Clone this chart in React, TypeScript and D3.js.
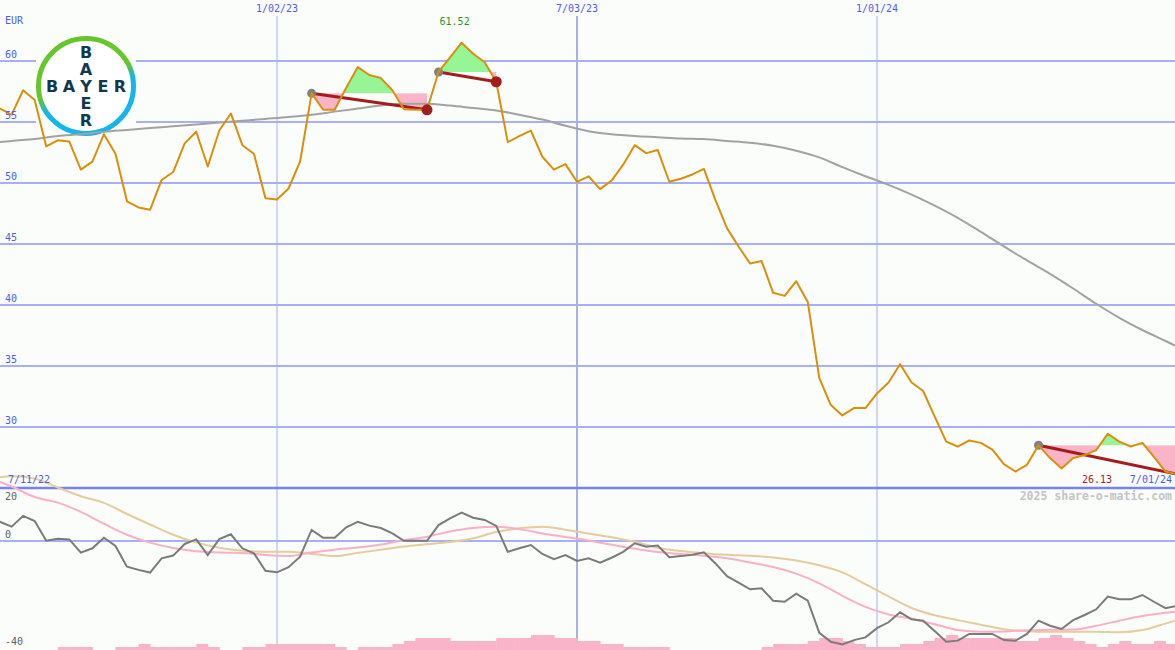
import React from 'react';
import * as d3 from 'd3';

const W = 1175;
const H = 650;

// weekly closes, first week Mon 11 Jul 2022
const startWeek = new Date(2022, 6, 11);

const priceClose = [
  56.5, 56.1, 55.6, 57.6, 56.8, 53.0, 53.5, 53.4, 51.1, 51.75,
  54.0, 52.4, 48.5, 48.0, 47.8, 50.25, 50.9, 53.25, 54.2, 51.35,
  54.3, 55.7, 53.1, 52.4, 48.75, 48.65, 49.55, 51.75, 57.35, 56.0,
  56.0, 57.8, 59.5, 58.85, 58.6, 57.6, 56.05, 56.0, 56.0, 59.1,
  60.3, 61.5, 60.6, 59.9, 58.3, 53.35, 53.85, 54.3, 52.15, 51.1,
  51.55, 50.1, 50.55, 49.5, 50.2, 51.5, 53.1, 52.45, 52.7, 50.1,
  50.35, 50.7, 51.15, 48.6, 46.3, 44.8, 43.4, 43.6, 41.0, 40.75,
  41.95, 40.25, 34.0, 31.8, 30.95, 31.55, 31.55, 32.75, 33.65, 35.15,
  33.65, 32.95, 30.85, 28.8, 28.4, 28.9, 28.7, 28.15, 26.95, 26.35,
  26.9, 28.5, 27.45, 26.6, 27.45, 27.7, 28.1, 29.45, 28.8, 28.4,
  28.7, 27.55, 26.35, 26.13,
];

// smooth lines sampled every second week (plus the last week)
const maLong = [
  53.25, 53.45, 53.6, 53.85, 54.0, 54.2, 54.35, 54.5, 54.65, 54.8,
  54.95, 55.1, 55.25, 55.4, 55.6, 55.85, 56.1, 56.35, 56.5, 56.5,
  56.35, 56.15, 55.95, 55.6, 55.2, 54.7, 54.25, 54.0, 53.85, 53.75,
  53.65, 53.6, 53.45, 53.3, 53.05, 52.65, 52.1, 51.3, 50.55, 49.85,
  49.05, 48.15, 47.15, 46.0, 44.8, 43.65, 42.55, 41.35, 40.1, 38.95,
  37.95, 37.05, 36.6,
];

const oscSignalPink = [
  23.5, 20.2, 16.3, 14.2, 10.8, 6.4, 2.3, -0.6, -2.6, -3.8,
  -4.3, -4.4, -5.2, -5.6, -4.3, -3.2, -2.4, -1.3, 0.3, 1.6,
  3.5, 4.8, 5.3, 4.4, 2.8, 1.5, 0.2, -1.4, -2.9, -4.1,
  -4.8, -5.5, -6.4, -8.0, -9.6, -12.1, -15.7, -20.3, -24.4, -27.2,
  -28.8, -30.8, -33.0, -33.6, -33.5, -33.1, -32.9, -32.8, -31.4, -29.5,
  -27.8, -26.6, -26.1,
];

const oscSignalTan = [
  22.8, 24.0, 23.1, 19.8, 16.6, 14.1, 10.0, 6.1, 2.3, -0.5,
  -2.5, -3.6, -4.0, -4.0, -4.8, -5.6, -4.4, -3.2, -2.0, -1.2,
  -0.4, 1.0, 3.3, 4.7, 5.3, 4.2, 2.8, 1.4, -0.3, -2.5,
  -3.7, -4.5, -5.1, -5.5, -6.1, -7.2, -9.0, -11.6, -16.0, -20.5,
  -24.8, -27.5, -29.3, -31.0, -32.7, -33.4, -33.6, -33.6, -33.6, -33.8,
  -33.0, -30.6, -29.3,
];

// weekly oscillator
const oscValues = [
  6.5, 7.1, 5.3, 9.3, 7.4, 0.1, 0.85, 0.6, -4.3, -2.7,
  1.2, -1.85, -9.5, -10.7, -11.7, -6.4, -5.4, -1.1, 0.6, -5.2,
  0.7, 2.5, -2.7, -4.6, -11.0, -11.6, -9.7, -5.8, 4.1, 1.2,
  1.2, 5.1, 7.1, 5.7, 4.8, 2.8, 0.1, 0.1, 0.1, 5.9,
  8.4, 10.5, 8.6, 7.8, 5.6, -4.0, -2.7, -1.5, -4.8, -6.7,
  -5.2, -7.4, -6.4, -8.0, -6.2, -4.0, -0.85, -2.1, -1.7, -6.0,
  -5.6, -5.1, -4.2, -8.3, -13.0, -15.4, -17.9, -17.5, -22.1, -22.5,
  -19.5, -22.1, -34.0, -37.3, -38.3, -36.7, -35.7, -32.3, -30.1, -26.4,
  -29.0, -29.5, -33.3, -37.3, -36.9, -34.4, -34.4, -34.4, -36.7, -36.9,
  -34.4, -29.5, -31.4, -32.6, -29.3, -27.4, -25.3, -20.6, -21.6, -21.6,
  -20.0, -22.5, -24.9, -24.0,
];

// weekly volume, in the chart's coarse steps
const volumeLevel = [
  0, 0, 0, 0, 0, 0, 1, 1, 1, 0,
  0, 1, 1, 2, 1, 1, 1, 1, 2, 1,
  0, 0, 1, 1, 2, 2, 2, 2, 2, 2,
  1, 0, 1, 1, 1, 2, 3, 4, 4, 4,
  3, 3, 3, 3, 4, 4, 4, 5, 5, 4,
  4, 3, 3, 2, 2, 1, 1, 1, 1, 0,
  0, 0, 0, 0, 0, 0, 0, 1, 2, 2,
  2, 3, 4, 4, 3, 2, 1, 1, 1, 2,
  2, 3, 4, 5, 4, 4, 4, 4, 4, 3,
  3, 4, 5, 4, 3, 2, 1, 2, 3, 2,
  2, 3, 2, 2,
];

const priceTicks = [60, 55, 50, 45, 40, 35, 30];
const oscTicks = [20, 0, -40];
const dateTicks = [new Date(2023, 0, 2), new Date(2023, 6, 3), new Date(2024, 0, 1)];
const dateTickLabels = ['1/02/23', '7/03/23', '1/01/24'];

const trends = [
  { from: 28, to: 38, open: false },
  { from: 39, to: 44, open: false },
  { from: 91, to: 103, open: true },
];

const highLabel = '61.52';
const lowLabel = '26.13';
const firstDateLabel = '7/11/22';
const lastDateLabel = '7/01/24';
const currency = 'EUR';
const credit = '2025 share-o-matic.com';

const weeks = priceClose.map((_, i) => d3.timeDay.offset(startWeek, 7 * i));
const smoothIdx = d3.range(0, 103, 2).concat([103]);

const x = d3.scaleTime()
  .domain([new Date(2023, 0, 2), new Date(2024, 0, 1)])
  .range([277, 877]);
const yP = d3.scaleLinear().domain([25, 60]).range([488, 61]);
const yO = d3.scaleLinear().domain([-40, 20]).range([649, 487]);
const yV = d3.scaleLinear().domain([0, 5]).range([650, 635]);

const BG = '#fbfdfb';
const GRID = '#a6b0f2';
const GRID_DARK = '#7683ee';
const BLUE_TXT = '#4b5cf2';
const MONO = '"DejaVu Sans Mono", "Liberation Mono", monospace';

function BayerLogo({ cx, cy }: { cx: number; cy: number }) {
  const step = 17;
  const letters = ['B', 'A', 'Y', 'E', 'R'];
  const font = { fontFamily: '"DejaVu Sans", sans-serif', fontWeight: 700, fontSize: 16 };
  return (
    <g>
      <defs>
        <linearGradient id="bayerRing" x1="0.3" y1="0" x2="0.7" y2="1">
          <stop offset="0.45" stopColor="#66c62a" />
          <stop offset="0.6" stopColor="#12b6ec" />
        </linearGradient>
      </defs>
      <rect x={cx - 50} y={cy - 50} width={100} height={100} fill={BG} />
      <circle cx={cx} cy={cy} r={47.5} fill="#ffffff" stroke="url(#bayerRing)" strokeWidth={5} />
      {letters.map((l, k) => (
        <text key={'h' + k} x={cx + (k - 2) * step} y={cy + 6} textAnchor="middle" fill="#10384f" {...font}>{l}</text>
      ))}
      {letters.map((l, k) => (k === 2 ? null : (
        <text key={'v' + k} x={cx} y={cy + (k - 2) * step + 6} textAnchor="middle" fill="#10384f" {...font}>{l}</text>
      )))}
    </g>
  );
}

export default function App() {
  const priceLine = d3.line<number>()
    .x((_, i) => x(weeks[i]))
    .y((d) => yP(d))(priceClose) || '';

  const smoothLine = (vals: number[], yScale: (v: number) => number) =>
    d3.line<number>()
      .x((_, k) => x(weeks[smoothIdx[k]]))
      .y((d) => yScale(d))
      .curve(d3.curveMonotoneX)(vals) || '';

  const oscLine = d3.line<number>()
    .x((_, i) => x(weeks[i]))
    .y((d) => yO(d))(oscValues) || '';

  return (
    <svg width={W} height={H} style={{ position: 'absolute', left: 0, top: 0, display: 'block' }}>
      <rect width={W} height={H} fill={BG} />

      {/* grid */}
      {priceTicks.map((t) => (
        <line key={t} x1={0} x2={W} y1={yP(t)} y2={yP(t)} stroke={GRID} strokeWidth={2} />
      ))}
      <line x1={0} x2={W} y1={yO(0)} y2={yO(0)} stroke={GRID} strokeWidth={2} />
      {dateTicks.map((d, k) => (
        <line key={k} x1={x(d)} x2={x(d)} y1={16} y2={H} stroke={GRID} strokeWidth={k === 1 ? 2 : 1} />
      ))}
      <line x1={0} x2={W} y1={yP(25)} y2={yP(25)} stroke={GRID_DARK} strokeWidth={2.5} />

      <BayerLogo cx={86} cy={86} />

      {/* volume */}
      {volumeLevel.map((v, i) => (v > 0 && i < weeks.length - 1 ? (
        <rect key={i} x={x(weeks[i])} width={x(weeks[i + 1]) - x(weeks[i]) + 0.5}
          y={yV(v)} height={yV(0) - yV(v)} fill="#f9b4c9" />
      ) : null))}

      {/* oscillator panel */}
      <path d={smoothLine(oscSignalTan, yO)} fill="none" stroke="#e5cc9c" strokeWidth={2} />
      <path d={smoothLine(oscSignalPink, yO)} fill="none" stroke="#f8b0c8" strokeWidth={2} />
      <path d={oscLine} fill="none" stroke="#7a7a7a" strokeWidth={2} />

      {/* trend fills */}
      <defs>
        {trends.map((t, k) => {
          const ly = yP(priceClose[t.from]);
          return (
            <React.Fragment key={k}>
              <clipPath id={`above${k}`}><rect x={0} y={0} width={W} height={ly} /></clipPath>
              <clipPath id={`below${k}`}><rect x={0} y={ly} width={W} height={H - ly} /></clipPath>
            </React.Fragment>
          );
        })}
      </defs>
      {trends.map((t, k) => {
        const level = priceClose[t.from];
        const idx = d3.range(t.from, t.to + 1);
        const area = d3.area<number>()
          .x((i) => x(weeks[i]))
          .y0(yP(level))
          .y1((i) => yP(priceClose[i]))(idx) || '';
        return (
          <g key={k}>
            <path d={area} fill="#96f696" clipPath={`url(#above${k})`} />
            <path d={area} fill="#f9b4c8" clipPath={`url(#below${k})`} />
          </g>
        );
      })}

      {/* long moving average */}
      <path d={smoothLine(maLong, yP)} fill="none" stroke="#a2a2a2" strokeWidth={2} />

      {/* trend lines */}
      {trends.map((t, k) => (
        <line key={k} x1={x(weeks[t.from])} y1={yP(priceClose[t.from])}
          x2={x(weeks[t.to])} y2={yP(priceClose[t.to])} stroke="#a31d1d" strokeWidth={3} />
      ))}
      {trends.map((t, k) => (
        <circle key={k} cx={x(weeks[t.from])} cy={yP(priceClose[t.from])} r={4.5} fill="#808080" />
      ))}

      <path d={priceLine} fill="none" stroke="#d98f0b" strokeWidth={2} strokeLinejoin="round" />

      {trends.filter((t) => !t.open).map((t, k) => (
        <circle key={k} cx={x(weeks[t.to])} cy={yP(priceClose[t.to])} r={5.5} fill="#a31d1d" />
      ))}

      {/* labels */}
      <g fontFamily={MONO} fontSize={10}>
        <text x={5} y={24} fill={BLUE_TXT}>{currency}</text>
        {priceTicks.map((t) => (
          <text key={t} x={5} y={yP(t) - 3} fill={BLUE_TXT}>{t}</text>
        ))}
        {dateTicks.map((d, k) => (
          <text key={k} x={x(d)} y={12} textAnchor="middle" fill={BLUE_TXT}>{dateTickLabels[k]}</text>
        ))}
        <text x={x(weeks[41]) - 7} y={25} textAnchor="middle" fill="#1f9a1f">{highLabel}</text>
        <text x={W - 63} y={483} textAnchor="end" fill="#a31d1d">{lowLabel}</text>
        <text x={W - 3} y={483} textAnchor="end" fill={BLUE_TXT}>{lastDateLabel}</text>
        <text x={8} y={483} fill={BLUE_TXT}>{firstDateLabel}</text>
        <text x={5} y={500} fill="#606060">{oscTicks[0]}</text>
        <text x={5} y={538} fill="#606060">{oscTicks[1]}</text>
        <text x={5} y={645} fill="#606060">{oscTicks[2]}</text>
      </g>
      <text x={W - 3} y={500} textAnchor="end" fontFamily={MONO} fontSize={11.5} fontWeight={700} fill="#c4c4c4">{credit}</text>
    </svg>
  );
}
